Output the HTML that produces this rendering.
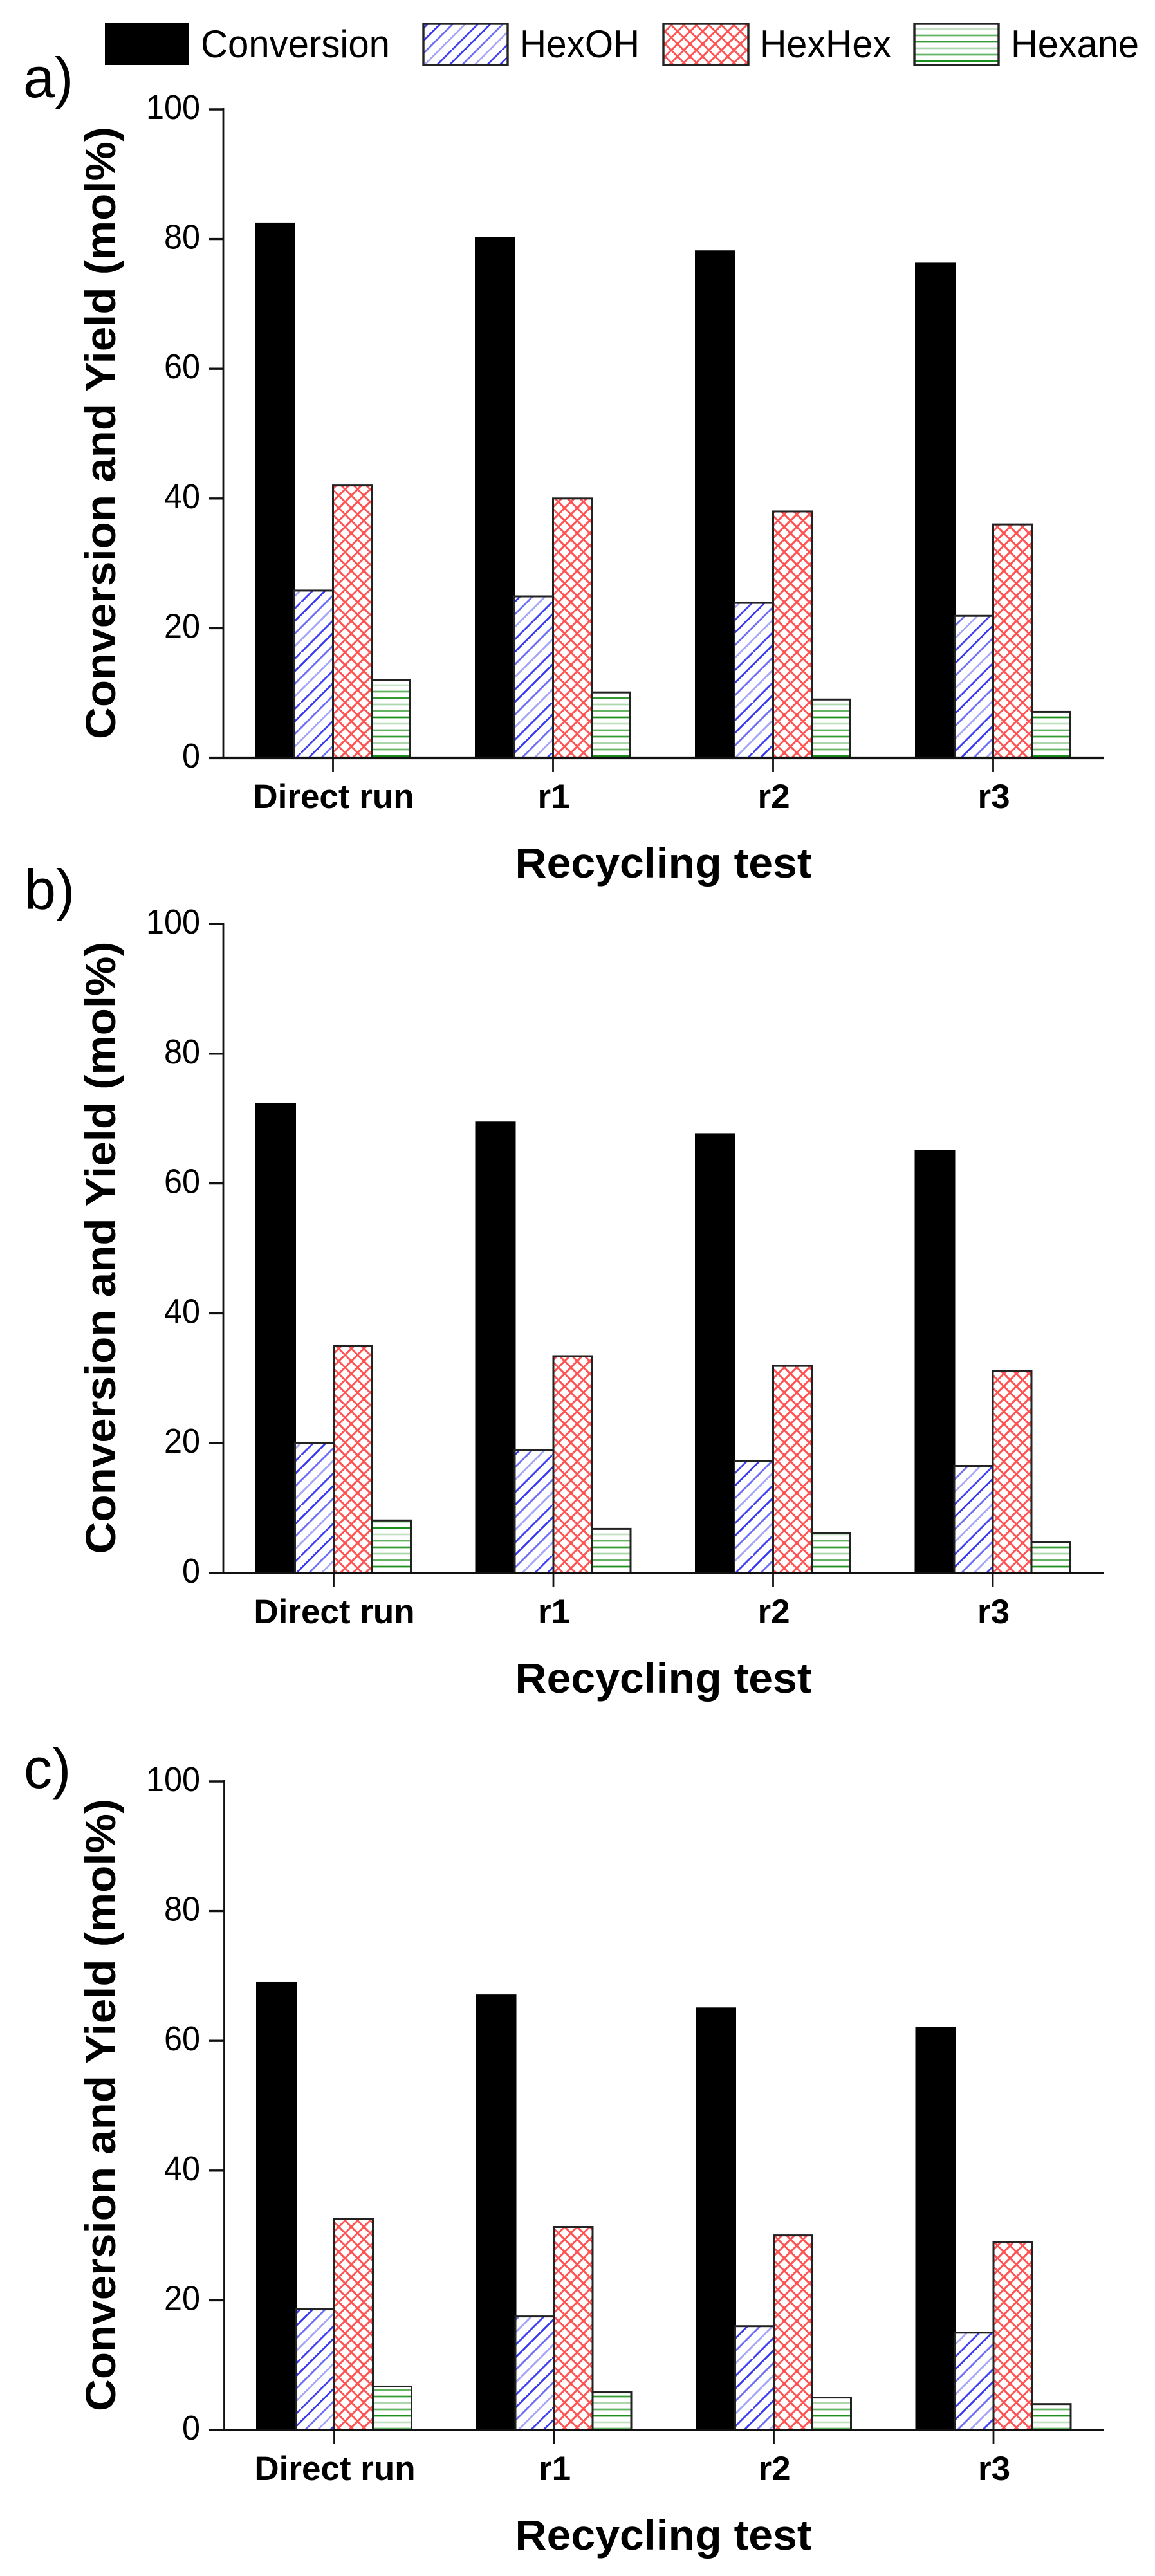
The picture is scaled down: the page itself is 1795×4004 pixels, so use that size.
<!DOCTYPE html>
<html lang="en">
<head>
<meta charset="utf-8">
<title>Conversion and yield recycling tests</title>
<style>
html,body{margin:0;padding:0;background:#fff;}
svg{display:block;}
text{font-family:"Liberation Sans",Arial,sans-serif;fill:#000;}
</style>
</head>
<body>
<svg id="figure" xmlns="http://www.w3.org/2000/svg" width="1795" height="4004" viewBox="0 0 1795 4004">
  <defs>
    <pattern id="hatch-blue" patternUnits="userSpaceOnUse" width="80" height="80" patternTransform="scale(.975)">
      <g fill="none" stroke="#2020f0" stroke-width="2.9">
        <path stroke-opacity=".9" d="M-4 24L24 -4M-4 104L84 16"/>
        <path stroke-opacity=".65" d="M-4 44L44 -4M36 84L84 36"/>
        <path stroke-opacity=".4" d="M-4 64L64 -4M56 84L84 56"/>
        <path stroke-opacity=".85" d="M-4 84L84 -4"/>
      </g>
    </pattern>
    <pattern id="hatch-red" patternUnits="userSpaceOnUse" width="20" height="20" patternTransform="scale(.975)">
      <g fill="none" stroke="#ff1010" stroke-width="3" stroke-opacity=".72">
        <path d="M-2 12L12 -2M8 22L22 8M-2 8L12 22M8 -2L22 12"/>
      </g>
    </pattern>
    <pattern id="hatch-green" patternUnits="userSpaceOnUse" width="60" height="60">
      <g fill="none" stroke="#108a10" stroke-width="2.8">
        <path stroke-opacity=".85" d="M0 5H60"/>
        <path stroke-opacity=".35" d="M0 15H60"/>
        <path stroke-opacity=".65" d="M0 25H60"/>
        <path stroke-opacity=".95" d="M0 35H60"/>
        <path stroke-opacity=".25" d="M0 45H60"/>
        <path stroke-opacity=".65" d="M0 55H60"/>
      </g>
    </pattern>
  </defs>

  <g id="legend">
    <g>
      <rect x="163" y="36" width="131" height="65" fill="#000"/>
      <text x="312" y="89" font-size="60" textLength="294" lengthAdjust="spacingAndGlyphs">Conversion</text>
    </g>
    <g>
      <rect x="658" y="37" width="131" height="64" fill="url(#hatch-blue)" stroke="#222" stroke-width="3.4"/>
      <text x="808" y="89" font-size="60" textLength="186" lengthAdjust="spacingAndGlyphs">HexOH</text>
    </g>
    <g>
      <rect x="1031" y="37" width="132" height="64" fill="url(#hatch-red)" stroke="#222" stroke-width="3.4"/>
      <text x="1181" y="89" font-size="60" textLength="204" lengthAdjust="spacingAndGlyphs">HexHex</text>
    </g>
    <g>
      <rect x="1421" y="37" width="131" height="64" fill="url(#hatch-green)" stroke="#222" stroke-width="3.4"/>
      <text x="1571" y="89" font-size="60" textLength="199" lengthAdjust="spacingAndGlyphs">Hexane</text>
    </g>
  </g>

  <text x="36" y="151" font-size="88">a)</text>
  <text x="38" y="1413" font-size="88">b)</text>
  <text x="37" y="2779" font-size="88">c)</text>
</svg>

<script>
const categories = ['Direct run', 'r1', 'r2', 'r3'];
const yTickValues = [0, 20, 40, 60, 80, 100];
const seriesNames = ['conversion', 'hexoh', 'hexhex', 'hexane'];
const xAxisTitle = 'Recycling test';
const yAxisTitle = 'Conversion and Yield (mol%)';

const conversionA = [82.4, 80.2, 78.1, 76.2];
const hexohA = [25.8, 24.9, 23.9, 21.9];
const hexhexA = [42, 40, 38, 36];
const hexaneA = [12.0, 10.1, 9.0, 7.1];

const conversionB = [72.2, 69.4, 67.6, 65];
const hexohB = [20, 18.9, 17.2, 16.5];
const hexhexB = [35, 33.4, 31.9, 31.1];
const hexaneB = [8.1, 6.8, 6.1, 4.8];

const conversionC = [69, 67, 65, 62];
const hexohC = [18.6, 17.5, 16, 15];
const hexhexC = [32.5, 31.3, 30, 29];
const hexaneC = [6.7, 5.8, 5, 4];

const svg = document.getElementById('figure');
const NS = 'http://www.w3.org/2000/svg';

function make(tag, parent, attrs, text) {
  const el = document.createElementNS(NS, tag);
  for (const k in attrs) el.setAttribute(k, attrs[k]);
  if (text !== undefined) el.textContent = text;
  parent.appendChild(el);
  return el;
}

const seriesFill = ['#000', 'url(#hatch-blue)', 'url(#hatch-red)', 'url(#hatch-green)'];
const seriesStroke = ['#000', '#222', '#222', '#222'];

function drawPanel(id, series, top, bottom, firstX, step, axisX, xAxisW) {
  const yScale = v => bottom - (v / 100) * (bottom - top);
  const xScale = i => firstX + i * step;
  const barW = 60;

  const g = make('g', svg, {});
  
  

  series.forEach((vals, s) => {
    vals.forEach((v, i) => {
      const x = xScale(i) + (s - 2) * barW;
      const y = yScale(v);
      const bar = make('rect', g, {
        x: x, y: y, width: barW, height: bottom - y,
        fill: seriesFill[s], stroke: seriesStroke[s], 'stroke-width': 3
      });
      
      
    });
  });

  const yAxis = make('line', g, { x1: axisX, x2: axisX, y1: yScale(100) - 2, y2: bottom, stroke: '#111', 'stroke-width': 2.8 });
  
  

  const xAxis = make('line', g, { x1: 325, x2: 1715, y1: bottom, y2: bottom, stroke: '#111', 'stroke-width': xAxisW });
  
  

  yTickValues.forEach(v => {
    const y = yScale(v);
    const tick = make('line', g, { x1: 325, x2: axisX, y1: y, y2: y, stroke: '#111', 'stroke-width': 3.4 });
    
    
    const label = String(v);
    const lab = make('text', g, {
      x: 311, y: y + 15, 'font-size': 54, 'text-anchor': 'end',
      textLength: label.length * 28, lengthAdjust: 'spacingAndGlyphs'
    }, label);
    
    
  });

  categories.forEach((c, i) => {
    const x = xScale(i);
    const tick = make('line', g, { x1: x, x2: x, y1: bottom, y2: bottom + 22, stroke: '#111', 'stroke-width': 2.8 });
    
    
    const lab = make('text', g, {
      x: x + 1, y: bottom + 78, 'font-size': 53, 'font-weight': 'bold', 'text-anchor': 'middle'
    }, c);
    
    
  });

  const xt = make('text', g, {
    x: 1031, y: bottom + 186, 'font-size': 66, 'font-weight': 'bold', 'text-anchor': 'middle',
    textLength: 461, lengthAdjust: 'spacingAndGlyphs'
  }, xAxisTitle);
  
  

  const cy = (top + bottom) / 2 - 1;
  const yt = make('text', g, {
    x: 0, y: 0, transform: 'translate(179 ' + cy + ') rotate(-90)',
    'font-size': 66, 'font-weight': 'bold', 'text-anchor': 'middle',
    textLength: 952, lengthAdjust: 'spacingAndGlyphs'
  }, yAxisTitle);
  
  
}

drawPanel('a', [conversionA, hexohA, hexhexA, hexaneA], 170, 1178, 517.5, 342, 347, 4.2);
drawPanel('b', [conversionB, hexohB, hexhexB, hexaneB], 1436, 2445, 518.5, 341.5, 347, 3.4);
drawPanel('c', [conversionC, hexohC, hexhexC, hexaneC], 2769, 3777, 519.5, 341.5, 348.5, 3.4);
</script>
</body>
</html>
